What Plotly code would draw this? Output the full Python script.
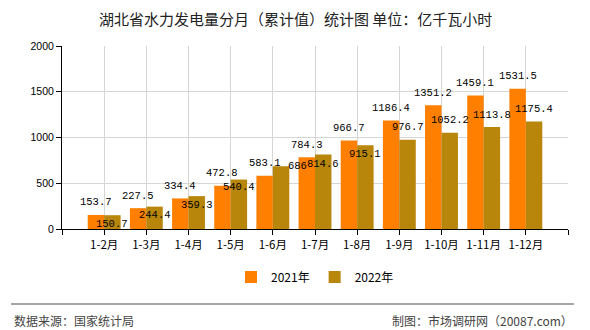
import plotly.graph_objects as go

categories = ["1-2月", "1-3月", "1-4月", "1-5月", "1-6月", "1-7月", "1-8月", "1-9月", "1-10月", "1-11月", "1-12月"]
values_2021 = [153.7, 227.5, 334.4, 472.8, 583.1, 784.3, 966.7, 1186.4, 1351.2, 1459.1, 1531.5]
values_2022 = [150.7, 244.4, 359.3, 540.4, 686, 814.6, 915.1, 976.7, 1052.2, 1113.8, 1175.4]
series_names = ["2021年", "2022年"]
y_ticks = [0, 500, 1000, 1500, 2000]

# label placement styling for the 2022 series (pixel shifts)
label_yshift_2022 = [-9, -8.5, -9, -7, 0, -9.5, -9, 13, 12.7, 12, 12.5]
label_xshift_2022 = [0, 0, 0, 0, 16, 0, 0, 0, 0, 0, 0]

C1 = "#FF8000"
C2 = "#B8860B"
BARGAP = 0.22
half = (1 - BARGAP) / 2

xpos = list(range(1, len(categories) + 1))

def fmt(v):
    return str(int(v)) if float(v).is_integer() else f"{v:.1f}"

fig = go.Figure()
fig.add_trace(go.Bar(x=xpos, y=values_2021, name=series_names[0], marker_color=C1, marker_line_width=0))
fig.add_trace(go.Bar(x=xpos, y=values_2022, name=series_names[1], marker_color=C2, marker_line_width=0))

L, R, T, B = 61.5, 22, 46, 101
W, H = 590, 330
pw = W - L - R
ph = H - T - B

def px_x(p):
    return (p - L) / pw

def px_y(p):
    return (H - B - p) / ph

ann = []
lab_font = dict(family="Liberation Mono, DejaVu Sans Mono, monospace", size=10.5, color="#000")
for i, (x, v) in enumerate(zip(xpos, values_2021)):
    ann.append(dict(x=x - half / 2, y=v, xref="x", yref="y", text=fmt(v), showarrow=False,
                    yanchor="middle", xanchor="center", yshift=12.5, font=lab_font))
for i, (x, v) in enumerate(zip(xpos, values_2022)):
    ann.append(dict(x=x + half / 2, y=v, xref="x", yref="y", text=fmt(v), showarrow=False,
                    yanchor="middle", xanchor="center", yshift=label_yshift_2022[i],
                    xshift=label_xshift_2022[i], font=lab_font))

ann.append(dict(text="湖北省水力发电量分月（累计值）统计图 单位：亿千瓦小时", x=px_x(W / 2), y=px_y(18),
                xref="paper", yref="paper", xanchor="center", yanchor="middle", showarrow=False,
                font=dict(family="Noto Sans CJK SC", size=15, color="#222")))
ann.append(dict(text="数据来源：国家统计局", x=px_x(11), y=px_y(320), xref="paper", yref="paper",
                xanchor="left", yanchor="middle", showarrow=False,
                font=dict(family="Noto Sans CJK SC", size=12, color="#444")))
ann.append(dict(text="制图：市场调研网（20087.com）", x=px_x(575), y=px_y(320), xref="paper", yref="paper",
                xanchor="right", yanchor="middle", showarrow=False,
                font=dict(family="Noto Sans CJK SC", size=12, color="#444")))

fig.update_layout(
    width=W, height=H,
    margin=dict(l=L, r=R, t=T, b=B),
    paper_bgcolor="white", plot_bgcolor="white",
    barmode="group", bargap=BARGAP, bargroupgap=0,
    annotations=ann,
    showlegend=True,
    legend=dict(orientation="h", x=0.5, xanchor="center", y=px_y(277), yanchor="middle",
                font=dict(family="Noto Sans CJK SC", size=12, color="#000"),
                itemwidth=30, traceorder="normal"),
    shapes=[dict(type="line", xref="paper", yref="paper", x0=px_x(10.5), x1=px_x(574),
                 y0=px_y(304), y1=px_y(304), line=dict(color="#888", width=1.5))],
    font=dict(family="Noto Sans CJK SC", color="#000"),
)

fig.update_xaxes(
    range=[0, len(categories) + 1],
    tickvals=list(range(0, len(categories) + 2)),
    ticktext=[""] + categories + [""],
    showgrid=True, gridcolor="#d6d6d6", gridwidth=1,
    showline=True, linecolor="#000", linewidth=1,
    ticks="outside", ticklen=5, tickcolor="#000",
    tickfont=dict(family="Noto Sans CJK SC", size=11.5, color="#000"),
    zeroline=False, fixedrange=True,
)
fig.update_yaxes(
    range=[0, 2000],
    tickvals=y_ticks,
    showgrid=True, gridcolor="#d6d6d6", gridwidth=1,
    showline=True, linecolor="#000", linewidth=1,
    ticks="outside", ticklen=5, tickcolor="#000",
    tickfont=dict(family="Liberation Sans, Arial", size=10.5, color="#000"),
    zeroline=False, fixedrange=True,
)

fig.write_html("out.html")
